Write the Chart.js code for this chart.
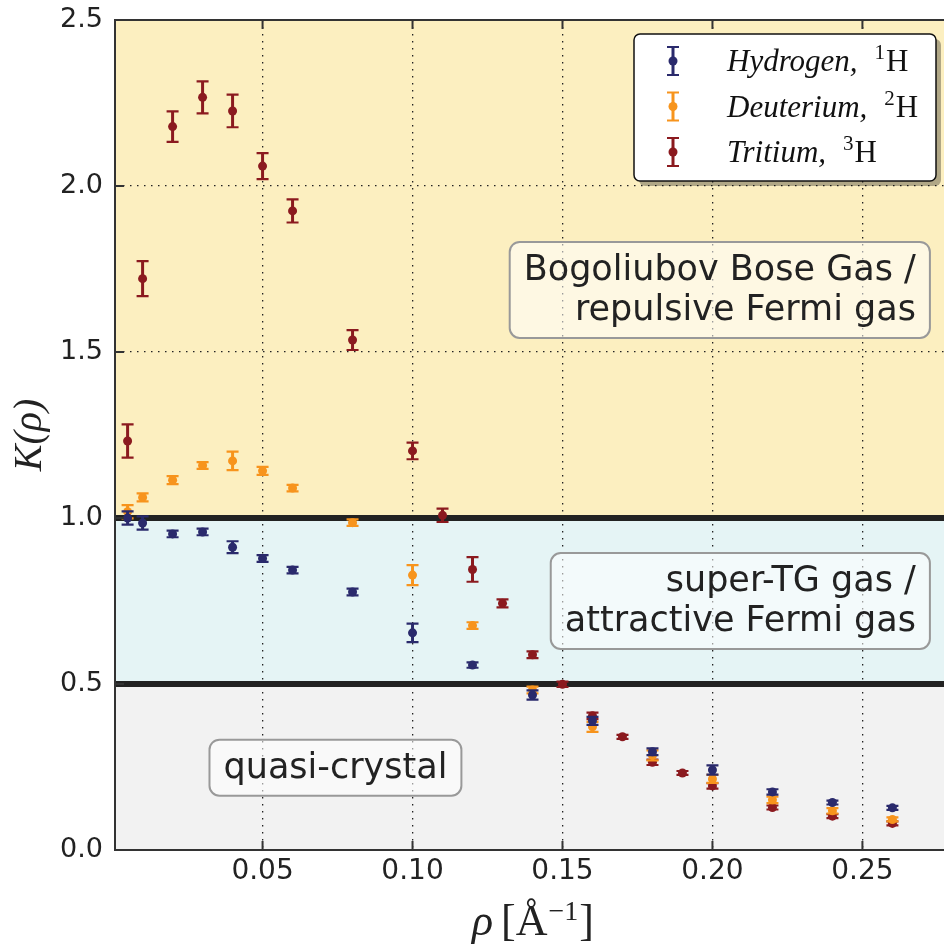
<!DOCTYPE html>
<html>
<head>
<meta charset="utf-8">
<script src="https://cdn.jsdelivr.net/npm/chart.js@4"></script>
<style>
  html, body { margin: 0; padding: 0; background: #fff; }
  #wrap { width: 944px; height: 946px; }
</style>
</head>
<body>
<div id="wrap"><canvas id="kChart" width="944" height="946"></canvas></div>
<script>
// Luttinger parameter K(rho) for the three hydrogen isotopes
const hydrogenRho = [0.005, 0.01, 0.02, 0.03, 0.04, 0.05, 0.06, 0.08, 0.10, 0.12, 0.14, 0.16, 0.18, 0.20, 0.22, 0.24, 0.26];
const hydrogenK   = [1.000, 0.985, 0.952, 0.958, 0.912, 0.878, 0.843, 0.777, 0.654, 0.557, 0.467, 0.389, 0.296, 0.241, 0.175, 0.143, 0.127];
const hydrogenErr = [0.020, 0.020, 0.010, 0.010, 0.018, 0.010, 0.010, 0.010, 0.028, 0.008, 0.014, 0.012, 0.010, 0.014, 0.008, 0.006, 0.006];

const deuteriumRho = [0.005, 0.01, 0.02, 0.03, 0.04, 0.05, 0.06, 0.08, 0.10, 0.12, 0.14, 0.16, 0.18, 0.20, 0.22, 0.24, 0.26];
const deuteriumK   = [1.019, 1.062, 1.114, 1.158, 1.172, 1.142, 1.090, 0.986, 0.828, 0.676, 0.482, 0.371, 0.285, 0.214, 0.151, 0.118, 0.092];
const deuteriumErr = [0.020, 0.012, 0.012, 0.010, 0.028, 0.012, 0.010, 0.010, 0.030, 0.010, 0.010, 0.015, 0.015, 0.012, 0.010, 0.008, 0.006];

const tritiumRho = [0.005, 0.01, 0.02, 0.03, 0.04, 0.05, 0.06, 0.08, 0.10, 0.11, 0.12, 0.13, 0.14, 0.15, 0.16, 0.17, 0.18, 0.19, 0.20, 0.22, 0.24, 0.26];
const tritiumK   = [1.232, 1.721, 2.179, 2.267, 2.226, 2.060, 1.925, 1.536, 1.202, 1.008, 0.845, 0.743, 0.588, 0.499, 0.404, 0.341, 0.264, 0.232, 0.193, 0.128, 0.102, 0.080];
const tritiumErr = [0.050, 0.053, 0.046, 0.048, 0.049, 0.039, 0.035, 0.030, 0.025, 0.020, 0.037, 0.012, 0.010, 0.008, 0.010, 0.006, 0.008, 0.006, 0.008, 0.006, 0.006, 0.006];

const xTicks = [0.05, 0.10, 0.15, 0.20, 0.25];
const yTicks = [0.0, 0.5, 1.0, 1.5, 2.0, 2.5];

// regime boundaries on the K axis
const regimeEdges = [0.0, 0.5, 1.0, 2.5];
const regimeLines = [0.5, 1.0];

const isotopeNames = ['Hydrogen', 'Deuterium', 'Tritium'];
const isotopeMass  = ['1', '2', '3'];

const colors = {
  hydrogen: '#2a2a6c',
  deuterium: '#f7941d',
  tritium: '#8b1a1f',
  bands: ['#f2f2f2', '#e5f4f5', '#fcefc0']
};

// labelled regimes, anchored by their right edge / centre in data units
const regimeLabels = [
  { lines: ['Bogoliubov Bose Gas /', 'repulsive Fermi gas'], x: 0.2725, y: 1.687, align: 'right' },
  { lines: ['super-TG gas /', 'attractive Fermi gas'], x: 0.2725, y: 0.750, align: 'right' },
  { lines: ['quasi-crystal'], x: 0.0743, y: 0.248, align: 'center' }
];

const toPoints = (xs, ys) => xs.map((x, i) => ({ x: x, y: ys[i] }));

function roundRect(c, x, y, w, h, r) {
  c.beginPath();
  c.moveTo(x + r, y);
  c.lineTo(x + w - r, y);
  c.arcTo(x + w, y, x + w, y + r, r);
  c.lineTo(x + w, y + h - r);
  c.arcTo(x + w, y + h, x + w - r, y + h, r);
  c.lineTo(x + r, y + h);
  c.arcTo(x, y + h, x, y + h - r, r);
  c.lineTo(x, y + r);
  c.arcTo(x, y, x + r, y, r);
  c.closePath();
}

function drawErrorGlyph(c, x, yTop, yBot, color) {
  c.strokeStyle = color;
  c.lineWidth = 3;
  c.beginPath();
  c.moveTo(x, yTop);
  c.lineTo(x, yBot);
  c.stroke();
  c.lineWidth = 2.2;
  c.beginPath();
  c.moveTo(x - 6, yTop);
  c.lineTo(x + 6, yTop);
  c.moveTo(x - 6, yBot);
  c.lineTo(x + 6, yBot);
  c.stroke();
}

// draws a run of [text, font, raise, gapAfter] pieces left to right
function drawPieces(c, pieces, x, base) {
  pieces.forEach(([t, font, raise, gap]) => {
    c.font = font;
    c.fillText(t, x, base - raise);
    x += c.measureText(t).width + (gap || 0);
  });
  return x;
}

// coloured regimes behind everything
const regimeBands = {
  id: 'regimeBands',
  beforeDraw(chart) {
    const { ctx: c, chartArea: a, scales: { y } } = chart;
    c.save();
    for (let i = 0; i < regimeEdges.length - 1; i++) {
      const top = y.getPixelForValue(regimeEdges[i + 1]);
      const bot = y.getPixelForValue(regimeEdges[i]);
      c.fillStyle = colors.bands[i];
      c.fillRect(a.left, top, a.right - a.left, bot - top);
    }
    c.restore();
  },
  beforeDatasetsDraw(chart) {
    const { ctx: c, chartArea: a, scales: { x, y } } = chart;
    c.save();
    // thick separators between regimes
    c.strokeStyle = '#222';
    c.lineWidth = 6;
    regimeLines.forEach(v => {
      const py = y.getPixelForValue(v);
      c.beginPath();
      c.moveTo(a.left, py);
      c.lineTo(a.right, py);
      c.stroke();
    });
    // regime text boxes
    c.font = '35px "DejaVu Sans"';
    c.textBaseline = 'middle';
    const lineH = 40;
    regimeLabels.forEach(lab => {
      const widths = lab.lines.map(t => c.measureText(t).width);
      const w = Math.max(...widths) + 28;
      const h = lab.lines.length * lineH + 16;
      const ax = x.getPixelForValue(lab.x);
      const cy = y.getPixelForValue(lab.y);
      const left = lab.align === 'right' ? ax - w : ax - w / 2;
      const top = cy - h / 2;
      roundRect(c, left, top, w, h, 10);
      c.fillStyle = 'rgba(255,255,255,0.55)';
      c.fill();
      c.strokeStyle = '#999';
      c.lineWidth = 2;
      c.stroke();
      c.fillStyle = '#222';
      c.textAlign = 'right';
      lab.lines.forEach((t, i) => {
        c.fillText(t, left + w - 14, top + 9 + lineH * (i + 0.5));
      });
    });
    c.restore();
  },
  // error bars of each isotope are painted just before its markers
  beforeDatasetDraw(chart, args) {
    const ds = chart.data.datasets[args.index];
    const { ctx: c, scales: { x, y } } = chart;
    c.save();
    ds.data.forEach((p, i) => {
      const px = x.getPixelForValue(p.x);
      drawErrorGlyph(c, px, y.getPixelForValue(p.y + ds.errors[i]), y.getPixelForValue(p.y - ds.errors[i]), ds.borderColor);
    });
    c.restore();
  },
  afterDraw(chart) {
    const { ctx: c, chartArea: a, scales: { x, y } } = chart;
    c.save();
    // frame and inward tick marks
    c.strokeStyle = '#333';
    c.lineWidth = 2;
    c.strokeRect(a.left, a.top, a.right - a.left + 2, a.bottom - a.top);
    c.beginPath();
    yTicks.forEach(v => {
      const py = y.getPixelForValue(v);
      c.moveTo(a.left, py);
      c.lineTo(a.left + 9, py);
    });
    xTicks.forEach(v => {
      const px = x.getPixelForValue(v);
      c.moveTo(px, a.bottom);
      c.lineTo(px, a.bottom - 9);
      c.moveTo(px, a.top);
      c.lineTo(px, a.top + 9);
    });
    c.stroke();

    // x axis title: rho [Å^-1]
    c.fillStyle = '#222';
    c.textBaseline = 'alphabetic';
    c.textAlign = 'left';
    const serif = '"Liberation Serif"';
    drawPieces(c, [
      ['ρ', 'italic 44px ' + serif, 0, 8],
      ['[Å', '44px ' + serif, 0, 1],
      ['−1', '28px ' + serif, 15, 1],
      [']', '44px ' + serif, 0]
    ], 472, 935);

    // legend
    const bw = 302, bh = 147;
    const bx = a.right - 8 - bw, by = a.top + 14;
    roundRect(c, bx + 5, by + 5, bw, bh, 6);
    c.fillStyle = 'rgba(0,0,0,0.3)';
    c.fill();
    roundRect(c, bx, by, bw, bh, 6);
    c.fillStyle = '#fff';
    c.fill();
    c.strokeStyle = '#111';
    c.lineWidth = 1.5;
    c.stroke();
    chart.data.datasets.forEach((ds, i) => {
      const ry = by + 27 + i * 45.5;
      const mx = bx + 39;
      drawErrorGlyph(c, mx, ry - 14, ry + 14, ds.borderColor);
      c.fillStyle = ds.borderColor;
      c.beginPath();
      c.arc(mx, ry, 4.5, 0, Math.PI * 2);
      c.fill();
      c.fillStyle = '#111';
      drawPieces(c, [
        [isotopeNames[i] + ',', 'italic 31px ' + serif, 0, 17],
        [isotopeMass[i], '21px ' + serif, 12, 1],
        ['H', '31px ' + serif, 0]
      ], bx + 93, ry + 10);
    });
    c.restore();
  }
};

const dataset = (label, xs, ys, errs, color) => ({
  label: label,
  data: toPoints(xs, ys),
  errors: errs,
  backgroundColor: color,
  borderColor: color,
  pointRadius: 4.5,
  pointBorderWidth: 0,
  pointHoverRadius: 4.5,
  showLine: false
});

new Chart(document.getElementById('kChart'), {
  type: 'scatter',
  data: {
    datasets: [
      dataset('Hydrogen', hydrogenRho, hydrogenK, hydrogenErr, colors.hydrogen),
      dataset('Deuterium', deuteriumRho, deuteriumK, deuteriumErr, colors.deuterium),
      dataset('Tritium', tritiumRho, tritiumK, tritiumErr, colors.tritium)
    ]
  },
  options: {
    responsive: false,
    animation: false,
    layout: { autoPadding: false, padding: { top: 20, right: 0, left: 0, bottom: 0 } },
    plugins: {
      legend: { display: false },
      tooltip: { enabled: false }
    },
    scales: {
      x: {
        type: 'linear',
        min: 0.0008,
        max: 0.2772,
        afterFit: s => { s.height = 96; s.paddingLeft = 0; s.paddingRight = 0; },
        afterBuildTicks: s => { s.ticks = xTicks.map(v => ({ value: v })); },
        ticks: {
          callback: v => v.toFixed(2),
          font: { family: 'DejaVu Sans', size: 28 },
          color: '#222',
          padding: 5,
          maxRotation: 0
        },
        grid: { color: '#222', lineWidth: 1.3, drawTicks: false },
        border: { display: true, color: '#333', width: 2, dash: [1.5, 5.5] }
      },
      y: {
        type: 'linear',
        min: 0,
        max: 2.5,
        afterFit: s => { s.width = 115; s.paddingTop = 0; s.paddingBottom = 0; },
        afterBuildTicks: s => { s.ticks = yTicks.map(v => ({ value: v })); },
        ticks: {
          callback: v => v.toFixed(1),
          font: { family: 'DejaVu Sans', size: 27 },
          color: '#222',
          padding: 12
        },
        grid: { color: '#222', lineWidth: 1.3, drawTicks: false },
        border: { display: true, color: '#333', width: 2, dash: [1.5, 5.5] },
        title: {
          display: true,
          text: 'K(ρ)',
          font: { family: 'Liberation Serif', size: 40, style: 'italic' },
          color: '#222',
          padding: { top: 6, bottom: 0 }
        }
      }
    }
  },
  plugins: [regimeBands]
});
</script>
</body>
</html>
